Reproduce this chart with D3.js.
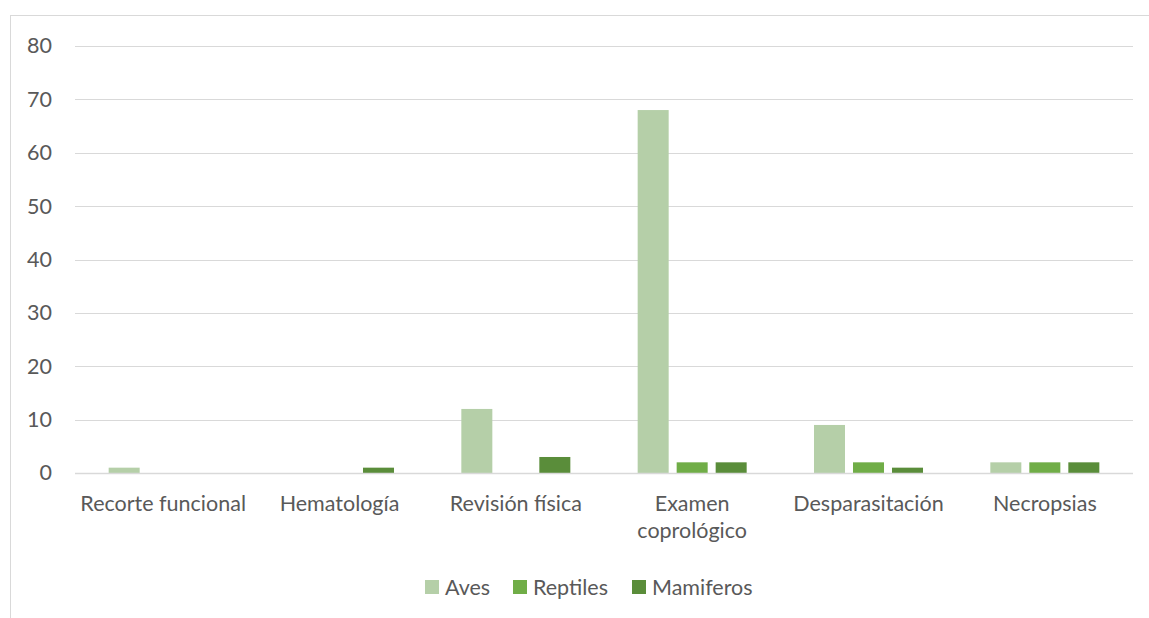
<!DOCTYPE html>
<html>
<head>
<meta charset="utf-8">
<script src="https://cdn.jsdelivr.net/npm/d3@7"></script>
<style>
  html, body { margin: 0; padding: 0; background: #fff; }
  svg { display: block; font-family: Lato, "Open Sans", sans-serif; }
</style>
</head>
<body>
<svg id="chart" width="1149" height="618"></svg>
<script>
// Procedures per animal group
const categories = ["Recorte funcional", "Hematología", "Revisión física", "Examen coprológico", "Desparasitación", "Necropsias"];
const series = ["Aves", "Reptiles", "Mamiferos"];
const aves      = [1, 0, 12, 68, 9, 2];
const reptiles  = [0, 0, 0, 2, 2, 2];
const mamiferos = [0, 1, 3, 2, 1, 2];
const yTicks = [0, 10, 20, 30, 40, 50, 60, 70, 80];
const colors = ["#b5cfa8", "#70ad47", "#5a8d3a"];

const values = [aves, reptiles, mamiferos];
const svg = d3.select("#chart");
const plot = { left: 75, right: 1133, top: 46, bottom: 473 };
const FONT = "Lato, 'Open Sans', sans-serif";
const FS = "21.5px";
const TXT = "#595959";

// outer frame (partly outside the viewport)
svg.append("rect")
  .attr("x", 10.5).attr("y", 15.5)
  .attr("width", 1200).attr("height", 700)
  .attr("fill", "none").attr("stroke", "#d9d9d9").attr("stroke-width", 1);

const x0 = d3.scaleBand().domain(categories).range([plot.left, plot.right]).padding(0);
const y = d3.scaleLinear().domain([0, 80]).range([plot.bottom, plot.top]);

// gridlines
svg.append("g").selectAll("line").data(yTicks).join("line")
  .attr("x1", plot.left).attr("x2", plot.right)
  .attr("y1", d => Math.round(y(d)) + 0.5).attr("y2", d => Math.round(y(d)) + 0.5)
  .attr("stroke", "#d9d9d9").attr("stroke-width", 1);

// y axis labels
const yAxis = d3.axisLeft(y).tickValues(yTicks).tickSize(0).tickPadding(0);
const gy = svg.append("g").attr("transform", `translate(${52},0)`).call(yAxis);
gy.select(".domain").remove();
gy.selectAll("text").attr("fill", TXT).style("font-size", FS).style("font-family", FONT);

// bars
categories.forEach((cat, ci) => {
  const cx = x0(cat) + x0.bandwidth() / 2;
  const x1 = d3.scaleBand().domain(series).range([cx - 58.5, cx + 58.5])
    .paddingInner(0.205).paddingOuter(0.1025);
  series.forEach((s, si) => {
    const v = values[si][ci];
    if (v <= 0) return;
    svg.append("rect")
      .attr("x", x1(s)).attr("width", x1.bandwidth())
      .attr("y", y(v)).attr("height", y(0) - y(v))
      .attr("fill", colors[si]);
  });
});

// baseline
svg.append("line")
  .attr("x1", plot.left).attr("x2", plot.right)
  .attr("y1", Math.round(y(0)) + 0.5).attr("y2", Math.round(y(0)) + 0.5)
  .attr("stroke", "#d9d9d9").attr("stroke-width", 1.5);

// category labels with wrapping
const xAxis = d3.axisBottom(x0).tickSize(0).tickPadding(0);
const gx = svg.append("g").attr("transform", `translate(0,${plot.bottom})`).call(xAxis);
gx.select(".domain").remove();
gx.selectAll("text")
  .attr("fill", TXT).style("font-size", FS).style("font-family", FONT)
  .attr("dy", null).attr("y", 0)
  .each(function(d) {
    const t = d3.select(this);
    const words = d.split(" ");
    t.text(null);
    let line = [], lines = [];
    const tmp = t.append("tspan");
    words.forEach(w => {
      line.push(w);
      tmp.text(line.join(" "));
      if (tmp.node().getComputedTextLength() > x0.bandwidth() - 4 && line.length > 1) {
        line.pop();
        lines.push(line.join(" "));
        line = [w];
      }
    });
    lines.push(line.join(" "));
    tmp.remove();
    lines.forEach((l, i) => {
      t.append("tspan").attr("x", 0).attr("y", 38 + i * 27).text(l);
    });
  });

// legend
const legendItems = [
  { name: series[0], x: 425, color: colors[0] },
  { name: series[1], x: 513, color: colors[1] },
  { name: series[2], x: 632, color: colors[2] }
];
const lg = svg.append("g");
legendItems.forEach(it => {
  lg.append("rect").attr("x", it.x).attr("y", 580).attr("width", 14).attr("height", 14).attr("fill", it.color);
  lg.append("text").attr("x", it.x + 20).attr("y", 594.5)
    .attr("fill", TXT).style("font-size", FS).style("font-family", FONT).text(it.name);
});
</script>
</body>
</html>
